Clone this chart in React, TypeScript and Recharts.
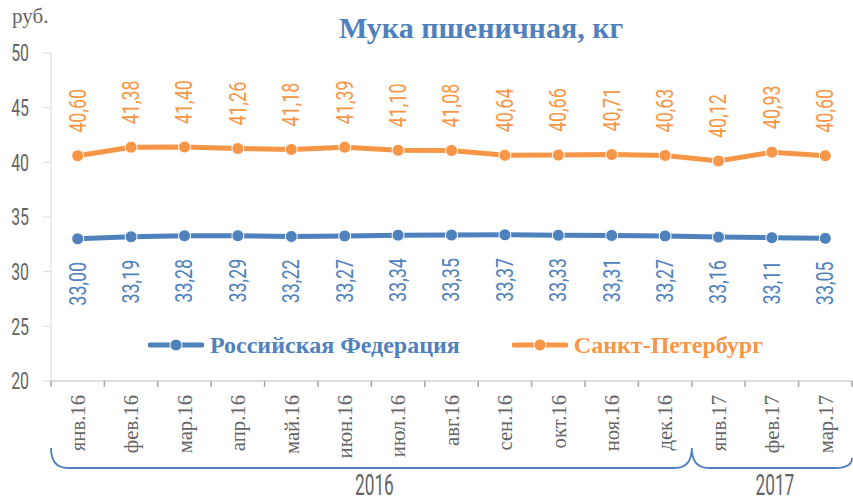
import React from 'react';
import { LineChart, Line, XAxis, YAxis } from 'recharts';

const categories = ['янв.16', 'фев.16', 'мар.16', 'апр.16', 'май.16', 'июн.16', 'июл.16', 'авг.16', 'сен.16', 'окт.16', 'ноя.16', 'дек.16', 'янв.17', 'фев.17', 'мар.17'];
const rfValues = [33.0, 33.19, 33.28, 33.29, 33.22, 33.27, 33.34, 33.35, 33.37, 33.33, 33.31, 33.27, 33.16, 33.11, 33.05];
const spbValues = [40.6, 41.38, 41.4, 41.26, 41.18, 41.39, 41.1, 41.08, 40.64, 40.66, 40.71, 40.63, 40.12, 40.93, 40.6];
const yTicks = [20, 25, 30, 35, 40, 45, 50];
const yearGroups = [
  { label: '2016', count: 12 },
  { label: '2017', count: 3 },
];
const seriesNames = { rf: 'Российская Федерация', spb: 'Санкт-Петербург' };

const BLUE = '#4F81BD';
const ORANGE = '#F79646';
const GRAY = '#646464';

const W = 853;
const H = 502;
const MARGIN = { top: 53, right: 1, bottom: 0, left: 0 };
const Y_AXIS_W = 51;
const X_AXIS_H = 121;
const PLOT_W = W - MARGIN.left - MARGIN.right - Y_AXIS_W;
const BAND = PLOT_W / categories.length;
const PLOT_BOTTOM = H - MARGIN.bottom - X_AXIS_H;

const data = categories.map((c, i) => ({ name: c, rf: rfValues[i], spb: spbValues[i] }));

const fmt = (v: number) => v.toFixed(2).replace('.', ',');

const COND_FONT = 'Roboto, "DejaVu Sans", sans-serif';

function CondText(props: any) {
  const { x, y, rot = 0, anchor = 'start', fill, size, sx = 1, sy = 1, children, baseline = 'central' } = props;
  return (
    <text
      transform={`translate(${x},${y}) rotate(${rot}) scale(${sx},${sy})`}
      textAnchor={anchor}
      dominantBaseline={baseline}
      fill={fill}
      fontSize={size}
      fontFamily={COND_FONT}
    >
      {children}
    </text>
  );
}

const spbLabel = (p: any) => {
  const { x, y, value } = p;
  if (x == null || y == null) return null;
  return (
    <CondText x={x} y={y - 23} rot={-90} anchor="start" fill={ORANGE} size={23} sx={0.78}>
      {fmt(value)}
    </CondText>
  );
};

const rfLabel = (p: any) => {
  const { x, y, value } = p;
  if (x == null || y == null) return null;
  return (
    <CondText x={x} y={y + 23} rot={-90} anchor="end" fill={BLUE} size={23} sx={0.78}>
      {fmt(value)}
    </CondText>
  );
};

const YTick = (p: any) => {
  const { y, payload } = p;
  return (
    <CondText x={29} y={y} anchor="end" fill={GRAY} size={24} sx={0.66}>
      {payload.value}
    </CondText>
  );
};

const XTick = (p: any) => {
  const { x, payload, index } = p;
  const labelTop = PLOT_BOTTOM + 14;
  const isLastCat = index === categories.length - 1;
  let extra: any = null;
  if (index === 0) {
    const left = x - BAND / 2;
    const yLine = PLOT_BOTTOM + 87;
    const yTop = PLOT_BOTTOM + 67;
    const r = 17;
    let d = '';
    let start = left;
    const texts: any[] = [];
    yearGroups.forEach((g, gi) => {
      const end = start + g.count * BAND;
      const isLast = gi === yearGroups.length - 1;
      d += `M ${start} ${yTop} Q ${start} ${yLine} ${start + r} ${yLine} L ${end - r} ${yLine} Q ${end} ${yLine} ${end} ${isLast ? yTop + 10 : yTop} `;
      texts.push(
        <CondText key={g.label} x={(start + end) / 2 + 3} y={PLOT_BOTTOM + 104} anchor="middle" fill={GRAY} size={24} sx={0.72} sy={1.2}>
          {g.label}
        </CondText>
      );
      start = end;
    });
    extra = (
      <g>
        <path d={d} fill="none" stroke={BLUE} strokeWidth={1.8} />
        {texts}
      </g>
    );
  }
  return (
    <g>
      <line x1={x - BAND / 2} y1={PLOT_BOTTOM} x2={x - BAND / 2} y2={PLOT_BOTTOM + 6} stroke="#a6a6a6" strokeWidth={1.5} />
      {isLastCat && (
        <line x1={x + BAND / 2} y1={PLOT_BOTTOM} x2={x + BAND / 2} y2={PLOT_BOTTOM + 6} stroke="#a6a6a6" strokeWidth={1.5} />
      )}
      <text
        transform={`translate(${x},${labelTop}) rotate(-90) scale(0.94,1)`}
        textAnchor="end"
        dominantBaseline="central"
        fill={GRAY}
        fontSize={22}
        fontFamily='"Liberation Serif", "Times New Roman", serif'
      >
        {payload.value}
      </text>
      {extra}
    </g>
  );
};

const legendItems = [
  { name: seriesNames.rf, color: BLUE },
  { name: seriesNames.spb, color: ORANGE },
];

export default function App() {
  return (
    <div style={{ position: 'absolute', left: 0, top: 0, width: W, height: H, background: '#fff' }}>
      <div
        style={{
          position: 'absolute',
          left: 12,
          top: 4,
          fontFamily: '"Liberation Serif", "Times New Roman", serif',
          fontSize: 21,
          color: GRAY,
          zIndex: 2,
        }}
      >
        руб.
      </div>
      <div
        style={{
          position: 'absolute',
          left: 0,
          top: 10,
          width: 962,
          textAlign: 'center',
          fontFamily: '"Liberation Serif", "Times New Roman", serif',
          fontWeight: 'bold',
          fontSize: 30,
          color: BLUE,
          zIndex: 2,
          lineHeight: '36px',
        }}
      >
        Мука пшеничная, кг
      </div>
      <div style={{ position: 'absolute', left: 148, top: 333, display: 'flex', alignItems: 'center', zIndex: 2 }}>
        {legendItems.map((e, i) => (
          <div key={i} style={{ display: 'flex', alignItems: 'center', marginRight: i === 0 ? 52 : 0 }}>
            <svg width={56} height={16} style={{ display: 'block' }}>
              <line x1={2} y1={8} x2={54} y2={8} stroke={e.color} strokeWidth={5} strokeLinecap="round" />
              <circle cx={28} cy={8} r={6} fill={e.color} stroke="#fff" strokeWidth={1} />
            </svg>
            <span
              style={{
                marginLeft: 6,
                color: e.color,
                fontFamily: '"Liberation Serif", "Times New Roman", serif',
                fontWeight: 'bold',
                fontSize: 24,
                lineHeight: '24px',
              }}
            >
              {e.name}
            </span>
          </div>
        ))}
      </div>
      <LineChart width={W} height={H} data={data} margin={MARGIN}>
        <XAxis
          dataKey="name"
          scale="band"
          interval={0}
          height={X_AXIS_H}
          stroke="#bfbfbf"
          tickLine={false}
          tickSize={5}
          tick={<XTick />}
        />
        <YAxis
          domain={[20, 50]}
          ticks={yTicks}
          width={Y_AXIS_W}
          stroke="#d9d9d9"
          tickLine={{ stroke: '#d9d9d9' }}
          tickSize={8}
          tick={<YTick />}
          interval={0}
        />
        <Line
          dataKey="rf"
          name={seriesNames.rf}
          stroke={BLUE}
          strokeWidth={5}
          dot={{ r: 6, fill: BLUE, stroke: '#fff', strokeWidth: 1 }}
          activeDot={false}
          isAnimationActive={false}
          label={rfLabel}
        />
        <Line
          dataKey="spb"
          name={seriesNames.spb}
          stroke={ORANGE}
          strokeWidth={5}
          dot={{ r: 6, fill: ORANGE, stroke: '#fff', strokeWidth: 1 }}
          activeDot={false}
          isAnimationActive={false}
          label={spbLabel}
        />
      </LineChart>
    </div>
  );
}
